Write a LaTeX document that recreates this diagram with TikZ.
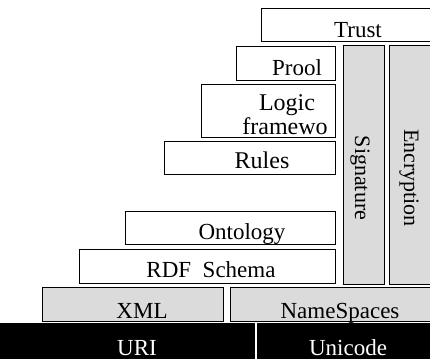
\documentclass[tikz,border=0pt]{standalone}
\usepackage{fontspec}
\setmainfont{Liberation Serif}
\begin{document}
\begin{tikzpicture}[x=1pt,y=-1pt,
  box/.style={draw=black,line width=0.9pt,fill=white},
  shade/.style={draw=black,line width=0.9pt,fill=gray!28},
  dark/.style={fill=black,draw=none},
  lbl/.style={anchor=base,inner sep=0pt,font=\fontsize{23}{25}\selectfont},
  big/.style={lbl,font=\fontsize{24}{26}\selectfont},
  wlbl/.style={lbl,text=white},
  vlbl/.style={anchor=center,inner sep=0pt,rotate=-90,font=\fontsize{22}{24}\selectfont}]
\useasboundingbox (0,0) rectangle (430,359);
\clip (0,0) rectangle (430,359);
% boxes
\draw[box] (261,8) rectangle (432,41);
\draw[box] (236,46) rectangle (335,80);
\draw[box] (201,84) rectangle (335,137);
\draw[box] (164,141) rectangle (335,174);
\draw[box] (125,211) rectangle (335,244);
\draw[box] (79,249) rectangle (335,283);
\draw[shade] (343,45) rectangle (384,284);
\draw[shade] (389,45) rectangle (432,284);
\draw[shade] (42,287) rectangle (223,321);
\draw[shade] (230,287) rectangle (432,321);
\fill[dark] (0,323) rectangle (255,359);
\fill[dark] (257,323) rectangle (430,359);
% labels
\node[lbl] (trust) at (358,37) {Trust};
\node[lbl] (proof) at (297,75) {Prool};
\node[big] (logic) at (287,110) {Logic};
\node[big] (frame) at (285,134) {framewo};
\node[big] (rules) at (262,168) {Rules};
\node[lbl] (onto) at (242,239) {Ontology};
\node[lbl] (rdfs) at (211,277) {RDF\ \ Schema};
\node[lbl] (xml) at (142,318) {XML};
\node[lbl] (ns) at (340,318) {NameSpaces};
\node[wlbl] (uri) at (137,355) {URI};
\node[wlbl] (uni) at (348,355) {Unicode};
\node[vlbl] (sig) at (360,178) {Signature};
\node[vlbl] (enc) at (409,178) {Encryption};
\end{tikzpicture}
\end{document}
